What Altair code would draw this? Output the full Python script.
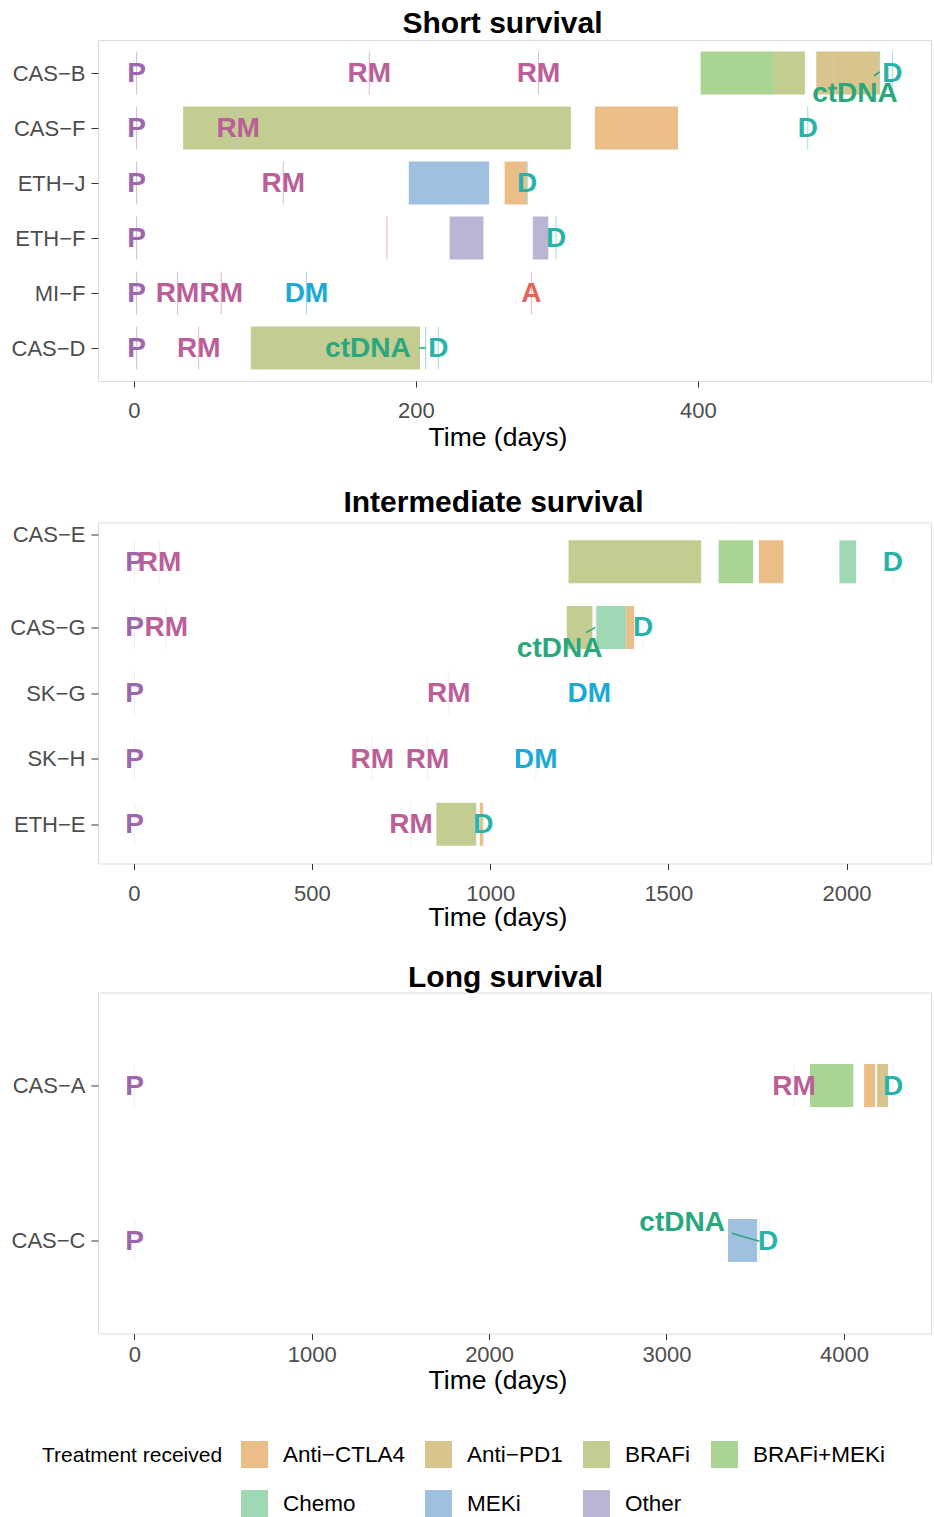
import altair as alt
import pandas as pd

FONT = "Liberation Sans"

# ---------------- data ----------------
panel_titles = ["Short survival", "Intermediate survival", "Long survival"]
panel_patients = [
    ["CAS−B", "CAS−F", "ETH−J", "ETH−F", "MI−F", "CAS−D"],
    ["CAS−E", "CAS−G", "SK−G", "SK−H", "ETH−E"],
    ["CAS−A", "CAS−C"],
]
# y positions of the axis ticks (row index; CAS-E tick sits above its row as in the original)
panel_tick_rows = [[1, 2, 3, 4, 5, 6], [0.59, 2, 3, 4, 5], [1, 2]]
panel_x_domain = [[-25.4, 565.4], [-100.4, 2237], [-204.6, 4491]]
panel_x_ticks = [[0, 200, 400], [0, 500, 1000, 1500, 2000], [0, 1000, 2000, 3000, 4000]]

treatments = ["Anti−CTLA4", "Anti−PD1", "BRAFi", "BRAFi+MEKi", "Chemo", "MEKi", "Other"]
treatment_colors = ["#EBBD87", "#D9C48E", "#C3CD92", "#A8D494", "#9FD8B2", "#A0C0DF", "#B8B6D4"]

tr_patient = ["CAS−B", "CAS−B", "CAS−B", "CAS−B",
              "CAS−F", "CAS−F",
              "ETH−J", "ETH−J",
              "ETH−F", "ETH−F",
              "CAS−D",
              "CAS−E", "CAS−E", "CAS−E", "CAS−E",
              "CAS−G", "CAS−G", "CAS−G",
              "ETH−E", "ETH−E",
              "CAS−A", "CAS−A", "CAS−A",
              "CAS−C"]
tr_start = [402, 454, 484, 496,
            35, 327,
            195, 263,
            224, 283,
            83,
            1220, 1641, 1754, 1980,
            1215, 1298, 1382,
            849, 971,
            3809, 4114, 4187,
            3347]
tr_end = [454, 476, 496, 529,
          310, 386,
          252, 279,
          248, 294,
          203,
          1592, 1738, 1823, 2027,
          1287, 1382, 1404,
          961, 981,
          4053, 4176, 4249,
          3511]
tr_type = ["BRAFi+MEKi", "BRAFi", "Anti−PD1", "Anti−PD1",
           "BRAFi", "Anti−CTLA4",
           "MEKi", "Anti−CTLA4",
           "Other", "Other",
           "BRAFi",
           "BRAFi", "BRAFi+MEKi", "Anti−CTLA4", "Chemo",
           "BRAFi", "Chemo", "Anti−CTLA4",
           "BRAFi", "Anti−CTLA4",
           "BRAFi+MEKi", "Anti−CTLA4", "Anti−PD1",
           "MEKi"]

event_types = ["P", "RM", "DM", "D", "ctDNA", "A"]
event_colors = ["#9E66AB", "#BA5F98", "#1DA9D6", "#2AB2AA", "#2AA87D", "#E5645A"]

ev_patient = ["CAS−B"] * 5 + ["CAS−F"] * 3 + ["ETH−J"] * 3 + ["ETH−F"] * 3 + ["MI−F"] * 5 + ["CAS−D"] * 4 \
    + ["CAS−E"] * 3 + ["CAS−G"] * 4 + ["SK−G"] * 3 + ["SK−H"] * 4 + ["ETH−E"] * 3 \
    + ["CAS−A"] * 3 + ["CAS−C"] * 3
ev_type = ["P", "RM", "RM", "ctDNA", "D",
           "P", "RM", "D",
           "P", "RM", "D",
           "P", "RM", "D",
           "P", "RM", "RM", "DM", "A",
           "P", "RM", "ctDNA", "D",
           "P", "RM", "D",
           "P", "RM", "ctDNA", "D",
           "P", "RM", "DM",
           "P", "RM", "RM", "DM",
           "P", "RM", "D",
           "P", "RM", "D",
           "P", "ctDNA", "D"]
ev_day = [2, 167, 287, 529, 538,
          2, 74, 478,
          2, 106, 279,
          2, 179.5, 299.5,
          2, 31, 62, 122.5, 282,
          2, 46, 207, 216,
          2, 72, 2130,
          2, 91, 1295, 1429,
          2, 884, 1278,
          2, 669, 824, 1128,
          2, 778, 981,
          2, 3719, 4277,
          2, 3524, 3573]
# where the (repelled) label ended up: day and vertical shift in row units
ev_label_day = [2, 167, 287, 511.5, 538,
                2, 74, 478,
                2, 106, 279,
                2, 179.5, 299.5,
                2, 31, 62, 122.5, 282,
                2, 46, 166, 216,
                2, 72, 2130,
                2, 91, 1195, 1429,
                2, 884, 1278,
                2, 669, 824, 1128,
                2, 778, 981,
                2, 3719, 4277,
                2, 3088, 3573]
ev_label_shift = [0, 0, 0, 0.37, 0,
                  0, 0, 0,
                  0, 0, 0,
                  0, 0, 0,
                  0, 0, 0, 0, 0,
                  0, 0, 0, 0,
                  0, 0, 0,
                  0, 0, 0.32, 0,
                  0, 0, 0,
                  0, 0, 0, 0,
                  0, 0, 0,
                  0, 0, 0,
                  0, -0.12, 0]
ev_show_label = [True] * len(ev_type)
ev_show_label[12] = False  # ETH-F label dropped in the original

# label connector segments (ggrepel style)
seg_patient = ["CAS−B", "CAS−D", "CAS−G", "CAS−C"]
seg_day1 = [525, 202.5, 1269, 3368]
seg_shift1 = [0.05, 0, 0.08, -0.047]
seg_day2 = [529, 207, 1295, 3524]
seg_shift2 = [-0.02, 0, 0, 0.005]

# ---------------- tables ----------------
row_of = {}
panel_of = {}
for pi, pats in enumerate(panel_patients):
    for ri, p in enumerate(pats):
        row_of[p] = ri + 1
        panel_of[p] = pi

tr_df = pd.DataFrame({"patient": tr_patient, "start": tr_start, "end": tr_end, "treatment": tr_type})
tr_df["row"] = tr_df.patient.map(row_of)
tr_df["panel"] = tr_df.patient.map(panel_of)


def blend(hexcol, a):
    h = hexcol.lstrip("#")
    rgb = [int(h[k:k + 2], 16) for k in (0, 2, 4)]
    out = [round(a * c + (1 - a) * 255) for c in rgb]
    return "#" + "".join(f"{c:02X}" for c in out)


ecol = dict(zip(event_types, event_colors))
line_alpha = [0.45, 0.12, 0.12]
ev_df = pd.DataFrame({"patient": ev_patient, "day": ev_day, "type": ev_type,
                      "lday": ev_label_day, "lshift": ev_label_shift, "show": ev_show_label})
ev_df["row"] = ev_df.patient.map(row_of)
ev_df["panel"] = ev_df.patient.map(panel_of)
ev_df["lrow"] = ev_df.row + ev_df.lshift
ev_df["col"] = ev_df.type.map(ecol)
ev_df["linecol"] = [blend(c, line_alpha[p]) for c, p in zip(ev_df.col, ev_df.panel)]
ev_df["text"] = [t if s else "" for t, s in zip(ev_df.type, ev_df.show)]

seg_df = pd.DataFrame({"patient": seg_patient, "d1": seg_day1, "s1": seg_shift1, "d2": seg_day2, "s2": seg_shift2})
seg_df["row"] = seg_df.patient.map(row_of)
seg_df["panel"] = seg_df.patient.map(panel_of)
seg_df["y1"] = seg_df.row + seg_df.s1
seg_df["y2"] = seg_df.row + seg_df.s2

legend = alt.Legend(
    title="Treatment received", orient="none", legendX=-56, legendY=1401,
    direction="horizontal", columns=4, titleOrient="left", titleAnchor="start",
    titleFont=FONT, titleFontSize=21, titleFontWeight="normal", titleColor="black",
    titlePadding=18, titleLimit=400, labelLimit=300,
    titleBaseline="line-top", titleLineHeight=30,
    labelFont=FONT, labelFontSize=22.5, labelColor="black",
    symbolType="square", symbolSize=729, symbolStrokeWidth=0, symbolOpacity=1,
    labelOffset=15, columnPadding=20, rowPadding=22,
)
color_enc = alt.Color("treatment:N", scale=alt.Scale(domain=treatments, range=treatment_colors), legend=legend)

title_dx = [-12, -21, -9]
title_offset = [1, 5, 0]
axis_title_pad = [3, 0, 2]
label_pad = [13, 14, 4.5]


def panel(i):
    n = len(panel_patients[i])
    ticks = panel_tick_rows[i]
    names = panel_patients[i]
    expr = "''"
    for v, name in reversed(list(zip(ticks, names))):
        expr = f"abs(datum.value - {v}) < 0.001 ? '{name}' : ({expr})"
    yscale = alt.Scale(domain=[0.4, n + 0.6], reverse=True, nice=False, zero=False, padding=0)
    xscale = alt.Scale(domain=panel_x_domain[i], nice=False, zero=False, padding=0)
    xaxis = alt.Axis(values=panel_x_ticks[i], title="Time (days)", grid=False, domain=False,
                     tickColor="#333333", tickSize=6, labelFont=FONT, labelFontSize=22,
                     labelColor="#4D4D4D", labelPadding=label_pad[i], labelFlush=False,
                     titleFont=FONT, titleFontSize=26.5, titleFontWeight="normal",
                     titleColor="black", titlePadding=axis_title_pad[i], format="d",
                     titleX=399.5, titleAlign="center")
    yaxis = alt.Axis(values=ticks, labelExpr=expr, title=None, grid=False, domain=False,
                     tickColor="#333333", tickSize=7, labelFont=FONT, labelFontSize=22,
                     labelColor="#4D4D4D", labelPadding=6)
    X = lambda f: alt.X(f, scale=xscale, axis=xaxis)
    Y = lambda f: alt.Y(f, scale=yscale, axis=yaxis)

    bars = alt.Chart(tr_df[tr_df.panel == i]).mark_bar(size=43, opacity=1).encode(
        x=X("start:Q"), x2="end:Q", y=Y("row:Q"), color=color_enc)
    lines = alt.Chart(ev_df[ev_df.panel == i]).mark_tick(
        orient="vertical", size=43, thickness=1, opacity=1).encode(
        x=X("day:Q"), y=Y("row:Q"), color=alt.Color("linecol:N", scale=None))
    segs = alt.Chart(seg_df[seg_df.panel == i]).mark_rule(
        strokeWidth=1.6, color="#2AA87D", opacity=1).encode(
        x=X("d1:Q"), x2="d2:Q", y=Y("y1:Q"), y2="y2:Q")
    labels = alt.Chart(ev_df[ev_df.panel == i]).mark_text(
        font=FONT, fontSize=28, fontWeight="bold", align="center", baseline="middle", dy=1,
        opacity=1).encode(
        x=X("lday:Q"), y=Y("lrow:Q"), text="text:N", color=alt.Color("col:N", scale=None))
    return alt.layer(bars, lines, segs, labels).properties(
        width=833, height=341,
        title=alt.TitleParams(panel_titles[i], font=FONT, fontSize=30, fontWeight="bold",
                              color="black", anchor="middle", dx=title_dx[i], offset=title_offset[i]))


chart = alt.vconcat(
    alt.vconcat(panel(0), panel(1), spacing=35.5),
    panel(2), spacing=29.5,
).properties(
    padding={"left": 9, "top": 8, "right": 2, "bottom": 0}
).configure_view(stroke="#333333", strokeWidth=1.3).configure(background="white")

chart.save("out.html", embed_options={"renderer": "svg", "actions": False})
